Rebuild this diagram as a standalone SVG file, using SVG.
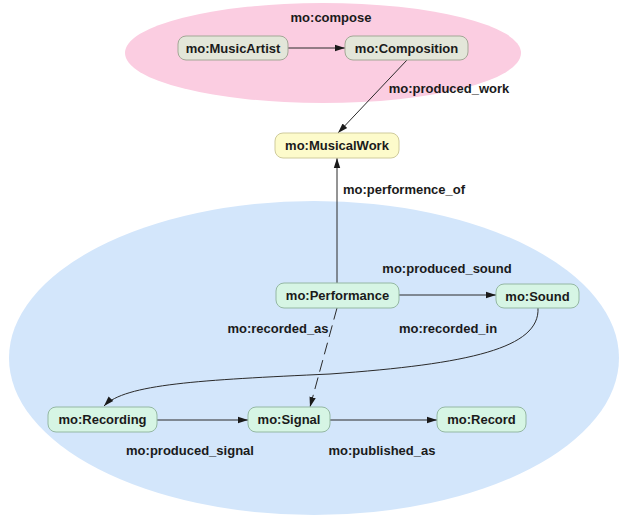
<svg xmlns="http://www.w3.org/2000/svg" width="622" height="515" viewBox="0 0 622 515">
<style>
text{font-family:"Liberation Sans",Arial,sans-serif;font-weight:bold;font-size:13px;fill:#1a1a1a}
.n text{text-anchor:middle}
.grey rect{fill:#e3e6d9;stroke:#a3a796;stroke-width:1}
.yel rect{fill:#fdfbcb;stroke:#cfcb9c;stroke-width:1}
.grn rect{fill:#d6f5e4;stroke:#94b8a3;stroke-width:1}
.e{fill:none;stroke:#2a2a2a;stroke-width:1;marker-end:url(#ah)}
.d{stroke-dasharray:12,6}
</style>
<defs>
<marker id="ah" viewBox="0 0 10 8" refX="10" refY="4" markerWidth="10" markerHeight="8" markerUnits="userSpaceOnUse" orient="auto">
<path d="M0,0.8 L10,4 L0,7.2 Z" fill="#1a1a1a"/>
</marker>
</defs>
<rect width="622" height="515" fill="#ffffff"/>
<g id="groups">
<ellipse cx="323" cy="53" rx="198" ry="50" fill="#fbcde1"/>
<ellipse cx="314" cy="358" rx="305" ry="157" fill="#d3e6fb"/>
<text x="331" y="22" text-anchor="middle">mo:compose</text>
</g>
<g id="connectors">
<line class="e" x1="288" y1="48" x2="345" y2="48"/>
<line class="e" x1="407" y1="60" x2="338" y2="133"/>
<line class="e" x1="337" y1="283" x2="337" y2="158"/>
<line class="e" x1="399" y1="295" x2="496" y2="295"/>
<line class="e d" x1="337" y1="308" x2="310" y2="407"/>
<path class="e" d="M538,308 C540,348 470,364 330,374 C200,380 125,384 104,406"/>
<line class="e" x1="157" y1="420" x2="248" y2="420"/>
<line class="e" x1="330" y1="420" x2="437" y2="420"/>
<text x="449" y="93" text-anchor="middle">mo:produced_work</text>
<text x="343" y="194">mo:performence_of</text>
<text x="447" y="273" text-anchor="middle">mo:produced_sound</text>
<text x="278" y="333" text-anchor="middle">mo:recorded_as</text>
<text x="448" y="333" text-anchor="middle">mo:recorded_in</text>
<text x="190" y="455" text-anchor="middle">mo:produced_signal</text>
<text x="382" y="455" text-anchor="middle">mo:published_as</text>
</g>
<g id="n-musicartist" class="n grey"><rect x="178" y="36" width="110" height="24" rx="8"/><text x="233" y="52.5">mo:MusicArtist</text></g>
<g id="n-composition" class="n grey"><rect x="345" y="36" width="123" height="24" rx="8"/><text x="406.5" y="52.5">mo:Composition</text></g>
<g id="n-musicalwork" class="n yel"><rect x="275" y="133" width="124" height="25" rx="8"/><text x="337" y="150">mo:MusicalWork</text></g>
<g id="n-performance" class="n grn"><rect x="276" y="283" width="123" height="25" rx="8"/><text x="337.5" y="300">mo:Performance</text></g>
<g id="n-sound" class="n grn"><rect x="496" y="284" width="83" height="24" rx="8"/><text x="537.5" y="300.5">mo:Sound</text></g>
<g id="n-recording" class="n grn"><rect x="48" y="407" width="109" height="25" rx="8"/><text x="102.5" y="424">mo:Recording</text></g>
<g id="n-signal" class="n grn"><rect x="248" y="407" width="82" height="25" rx="8"/><text x="289" y="424">mo:Signal</text></g>
<g id="n-record" class="n grn"><rect x="437" y="407" width="89" height="25" rx="8"/><text x="481.5" y="424">mo:Record</text></g>
</svg>
